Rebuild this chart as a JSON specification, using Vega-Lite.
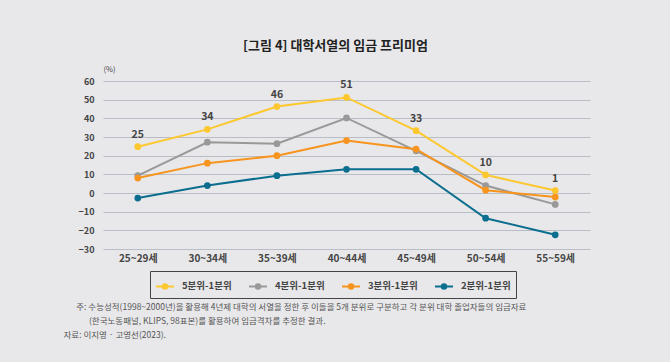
{
  "$schema": "https://vega.github.io/schema/vega-lite/v6.json",
  "width": 487,
  "height": 168,
  "autosize": "none",
  "padding": {"left": 103, "top": 81, "right": 80, "bottom": 113},
  "background": "#e8e8ea",
  "config": {
    "font": "Noto Sans CJK KR",
    "view": {"stroke": null},
    "axis": {"labelFont": "Noto Sans CJK KR", "titleFont": "Noto Sans CJK KR"},
    "legend": {"labelFont": "Noto Sans CJK KR"}
  },
  "title": {
    "text": "[그림 4] 대학서열의 임금 프리미엄",
    "font": "Noto Sans CJK KR",
    "fontSize": 13,
    "fontWeight": "bold",
    "color": "#222222",
    "anchor": "middle",
    "frame": "group",
    "dx": -11,
    "offset": 12
  },
  "data": {
    "values": [
      {"age": "25~29세", "series": "5분위-1분위", "value": 24.8},
      {"age": "30~34세", "series": "5분위-1분위", "value": 34.1},
      {"age": "35~39세", "series": "5분위-1분위", "value": 46.3},
      {"age": "40~44세", "series": "5분위-1분위", "value": 51.2},
      {"age": "45~49세", "series": "5분위-1분위", "value": 33.4},
      {"age": "50~54세", "series": "5분위-1분위", "value": 9.7},
      {"age": "55~59세", "series": "5분위-1분위", "value": 1.3},
      {"age": "25~29세", "series": "4분위-1분위", "value": 9.3},
      {"age": "30~34세", "series": "4분위-1분위", "value": 27.2},
      {"age": "35~39세", "series": "4분위-1분위", "value": 26.4},
      {"age": "40~44세", "series": "4분위-1분위", "value": 40.2},
      {"age": "45~49세", "series": "4분위-1분위", "value": 22.6},
      {"age": "50~54세", "series": "4분위-1분위", "value": 4.0},
      {"age": "55~59세", "series": "4분위-1분위", "value": -6.1},
      {"age": "25~29세", "series": "3분위-1분위", "value": 8.0},
      {"age": "30~34세", "series": "3분위-1분위", "value": 16.0},
      {"age": "35~39세", "series": "3분위-1분위", "value": 20.0},
      {"age": "40~44세", "series": "3분위-1분위", "value": 28.1},
      {"age": "45~49세", "series": "3분위-1분위", "value": 23.5},
      {"age": "50~54세", "series": "3분위-1분위", "value": 1.5},
      {"age": "55~59세", "series": "3분위-1분위", "value": -2.2},
      {"age": "25~29세", "series": "2분위-1분위", "value": -2.7},
      {"age": "30~34세", "series": "2분위-1분위", "value": 4.0},
      {"age": "35~39세", "series": "2분위-1분위", "value": 9.3},
      {"age": "40~44세", "series": "2분위-1분위", "value": 12.7},
      {"age": "45~49세", "series": "2분위-1분위", "value": 12.7},
      {"age": "50~54세", "series": "2분위-1분위", "value": -13.5},
      {"age": "55~59세", "series": "2분위-1분위", "value": -22.4}
    ]
  },
  "encoding": {
    "x": {
      "field": "age",
      "type": "ordinal",
      "sort": null,
      "scale": {"type": "point", "padding": 0.5},
      "axis": {
        "labelAngle": 0,
        "labelFontSize": 10,
        "labelFontWeight": "bold",
        "labelColor": "#444444",
        "labelPadding": 4,
        "ticks": false,
        "domain": false,
        "grid": false,
        "title": [
          "\u200b\u2003\u2002주: 수능성적(1998~2000년)을 활용해 4년제 대학의 서열을 정한 후 이들을 5개 분위로 구분하고 각 분위 대학 졸업자들의 임금자료",
          "\u200b\u2003\u2003\u2003(한국노동패널, KLIPS, 98표본)를 활용하여 임금격차를 추정한 결과.",
          "자료: 이지영 · 고영선(2023)."
        ],
        "titleFontSize": 8.5,
        "titleFontWeight": "normal",
        "titleColor": "#555555",
        "titleAnchor": "start",
        "titleAlign": "left",
        "titleBaseline": "top",
        "titleX": -40,
        "titleY": 53,
        "titleLineHeight": 14
      }
    },
    "y": {
      "field": "value",
      "type": "quantitative",
      "scale": {"domain": [-30, 60], "nice": false, "zero": false},
      "axis": {
        "values": [-30, -20, -10, 0, 10, 20, 30, 40, 50, 60],
        "labelFontSize": 9,
        "labelFontWeight": "bold",
        "labelColor": "#444444",
        "labelPadding": 9,
        "ticks": false,
        "domain": false,
        "gridColor": "#b9bdc5",
        "gridWidth": 1,
        "title": "(%)",
        "titleAngle": 0,
        "titleFontSize": 7.5,
        "titleFontWeight": "normal",
        "titleColor": "#444444",
        "titleAlign": "left",
        "titleBaseline": "middle",
        "titleX": 0,
        "titleY": -12
      }
    },
    "color": {
      "field": "series",
      "type": "nominal",
      "scale": {
        "domain": ["5분위-1분위", "4분위-1분위", "3분위-1분위", "2분위-1분위"],
        "range": ["#fdc82f", "#999999", "#f7941d", "#0b6e8e"]
      },
      "legend": {
        "orient": "none",
        "legendX": 47,
        "legendY": 190,
        "direction": "horizontal",
        "title": null,
        "symbolType": "M-1,0L1,0M0.25,0A0.25,0.25 0 1,1 -0.25,0A0.25,0.25 0 1,1 0.25,0",
        "symbolSize": 324,
        "symbolStrokeWidth": 2,
        "labelFontSize": 9.5,
        "labelFontWeight": "bold",
        "labelColor": "#444444",
        "labelOffset": 7,
        "columnPadding": 13,
        "padding": 5,
        "strokeColor": "#444444",
        "fillColor": "#e8e8ea",
        "encode": {
          "symbols": {"update": {"fill": {"scale": "color", "field": "value"}}}
        }
      }
    }
  },
  "layer": [
    {"mark": {"type": "line", "strokeWidth": 2}},
    {"mark": {"type": "point", "filled": true, "size": 45, "opacity": 1}},
    {
      "transform": [{"filter": "datum.series === '5분위-1분위'"}],
      "mark": {"type": "text", "dy": -12, "fontSize": 10.5, "fontWeight": "bold", "color": "#444444"},
      "encoding": {
        "text": {"field": "value", "type": "quantitative", "format": ".0f"},
        "color": {"value": "#444444"}
      }
    }
  ]
}
